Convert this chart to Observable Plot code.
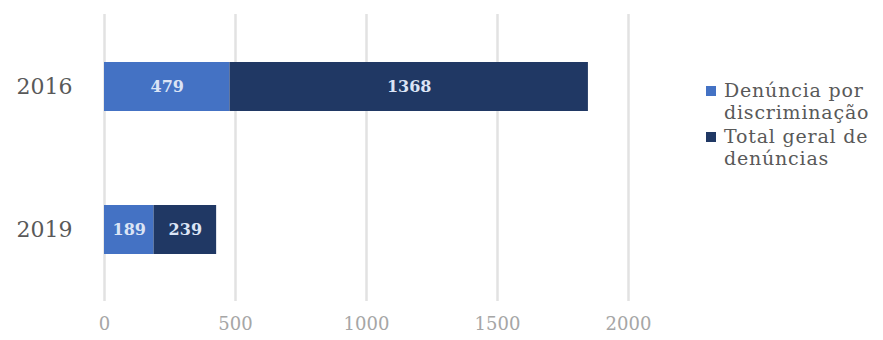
<!DOCTYPE html>
<html>
<head>
<meta charset="utf-8">
<script src="https://cdn.jsdelivr.net/npm/d3@7"></script>
<script src="https://cdn.jsdelivr.net/npm/@observablehq/plot@0.6"></script>
<style>
  html, body { margin: 0; padding: 0; background: #fff; }
  #wrap { position: relative; width: 883px; height: 340px; }
  #legend { position: absolute; left: 704px; top: 80px; font-family: "DejaVu Serif", serif; font-size: 19px; line-height: 21.5px; color: #595959; letter-spacing: 0.8px; white-space: nowrap; }
  .item { position: relative; padding-left: 20px; margin-bottom: 3px; }
  .sw { position: absolute; left: 2px; top: 6px; width: 10px; height: 10px; }
</style>
</head>
<body>
<div id="wrap"></div>
<script>
const years = ["2016", "2019"];
const seriesNames = ["Denúncia por discriminação", "Total geral de denúncias"];
const legendLines = [["Denúncia por", "discriminação"], ["Total geral de", "denúncias"]];
const discriminacao = [479, 189];
const totalGeral = [1368, 239];
const xTicks = [0, 500, 1000, 1500, 2000];
const colors = ["#4472C4", "#203864"];

const rows = [];
years.forEach((y, i) => {
  rows.push({year: y, series: seriesNames[0], value: discriminacao[i]});
  rows.push({year: y, series: seriesNames[1], value: totalGeral[i]});
});

const plot = Plot.plot({
  width: 883,
  height: 340,
  marginLeft: 104,
  marginRight: 255,
  marginTop: 14,
  marginBottom: 39,
  style: {fontFamily: "DejaVu Serif, serif", background: "#fff"},
  x: {domain: [0, 2000], ticks: xTicks, label: null},
  y: {domain: years, paddingInner: 0.659, paddingOuter: 0.331, label: null},
  color: {domain: seriesNames, range: colors},
  marks: [
    Plot.gridX(xTicks, {stroke: "#e2e2e2", strokeWidth: 2.5, strokeOpacity: 1}),
    Plot.barX(rows, Plot.stackX({x: "value", y: "year", fill: "series", z: "series", order: seriesNames})),
    Plot.text(rows, Plot.stackX({x: "value", y: "year", z: "series", order: seriesNames, text: d => String(d.value), fill: "#dbe4f5", fontWeight: "bold", fontSize: 16})),
    Plot.axisX(xTicks, {tickSize: 0, tickPadding: 16, fontSize: 18, fill: "#a6a6a6", label: null, tickFormat: d => String(d)}),
    Plot.axisY({tickSize: 0, tickPadding: 32, fontSize: 22, fill: "#595959", label: null})
  ]
});
document.getElementById("wrap").appendChild(plot);

const legend = document.createElement("div");
legend.id = "legend";
seriesNames.forEach((s, i) => {
  const it = document.createElement("div");
  it.className = "item";
  const sw = document.createElement("span");
  sw.className = "sw";
  sw.style.background = colors[i];
  it.appendChild(sw);
  it.appendChild(document.createTextNode(legendLines[i][0]));
  it.appendChild(document.createElement("br"));
  it.appendChild(document.createTextNode(legendLines[i][1]));
  legend.appendChild(it);
});
document.getElementById("wrap").appendChild(legend);
</script>
</body>
</html>
